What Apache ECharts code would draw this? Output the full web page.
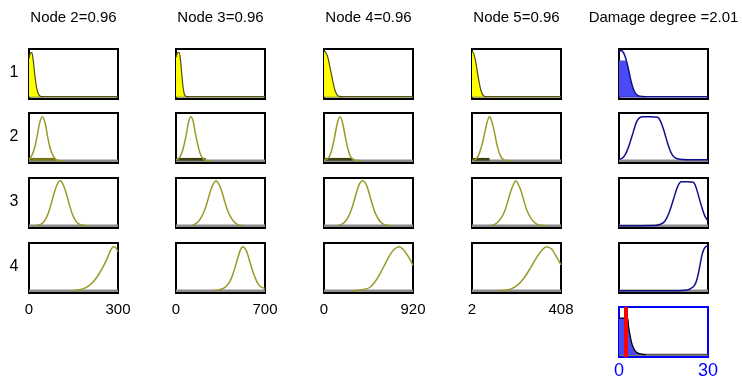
<!DOCTYPE html>
<html>
<head>
<meta charset="utf-8">
<script src="https://cdn.jsdelivr.net/npm/echarts@6/dist/echarts.min.js"></script>
<style>
  html, body { margin: 0; padding: 0; background: #fff; }
  #chart { width: 742px; height: 381px; }
</style>
</head>
<body>
<div id="chart"></div>
<script>
// column titles and row labels
const titles = ['Node 2=0.96', 'Node 3=0.96', 'Node 4=0.96', 'Node 5=0.96', 'Damage degree =2.01'];
const rowLabels = ['1', '2', '3', '4'];
const xRanges = [[0, 300], [0, 700], [0, 920], [2, 408], [0, 30]];

// curves, [x, density scaled to box height]
const node2Rows = [
  [[0, 0.82], [4, 0.93], [9, 0.95], [14, 0.8], [19, 0.5], [25, 0.22], [31, 0.07], [38, 0.01], [50, 0]],
  [[0, 0.03], [10, 0.12], [20, 0.3], [28, 0.55], [36, 0.82], [45, 0.95], [54, 0.82], [62, 0.55], [70, 0.3], [80, 0.12], [90, 0.03], [100, 0.005], [120, 0]],
  [[20, 0.005], [30, 0.01], [45, 0.05], [55, 0.13], [65, 0.27], [75, 0.48], [85, 0.71], [95, 0.89], [105, 0.97], [115, 0.89], [125, 0.71], [135, 0.48], [145, 0.27], [155, 0.13], [165, 0.05], [180, 0.01], [200, 0]],
  [[150, 0.005], [170, 0.02], [190, 0.06], [210, 0.15], [230, 0.3], [250, 0.52], [265, 0.72], [275, 0.87], [285, 0.95], [292, 0.93], [300, 0.84]]
];
const node3Rows = [
  [[0, 0.85], [12, 0.95], [23, 0.96], [35, 0.8], [45, 0.5], [55, 0.22], [65, 0.06], [75, 0.01], [100, 0]],
  [[0, 0.02], [20, 0.04], [40, 0.13], [60, 0.3], [80, 0.55], [100, 0.85], [117, 0.95], [135, 0.85], [155, 0.55], [175, 0.3], [195, 0.12], [215, 0.04], [240, 0.005], [280, 0]],
  [[130, 0.01], [160, 0.05], [190, 0.14], [220, 0.3], [250, 0.55], [280, 0.82], [315, 0.97], [350, 0.82], [380, 0.55], [410, 0.3], [440, 0.14], [470, 0.05], [500, 0.01], [530, 0]],
  [[300, 0.005], [340, 0.02], [380, 0.06], [420, 0.18], [450, 0.38], [480, 0.65], [505, 0.87], [526, 0.95], [550, 0.88], [575, 0.68], [600, 0.45], [625, 0.26], [650, 0.13], [675, 0.07], [700, 0.05]]
];
const node4Rows = [
  [[0, 0.99], [20, 0.95], [40, 0.85], [60, 0.65], [80, 0.45], [100, 0.25], [120, 0.1], [140, 0.03], [160, 0.005], [200, 0]],
  [[0, 0.005], [20, 0.02], [50, 0.07], [80, 0.23], [110, 0.52], [140, 0.83], [165, 0.95], [190, 0.83], [220, 0.52], [250, 0.23], [280, 0.07], [310, 0.02], [340, 0.003], [380, 0]],
  [[150, 0.01], [200, 0.05], [240, 0.15], [280, 0.33], [320, 0.6], [360, 0.87], [400, 0.97], [440, 0.87], [480, 0.6], [520, 0.33], [560, 0.15], [600, 0.05], [650, 0.01], [700, 0]],
  [[300, 0], [350, 0.01], [420, 0.03], [480, 0.08], [530, 0.2], [580, 0.37], [630, 0.57], [680, 0.77], [730, 0.9], [775, 0.95], [820, 0.89], [870, 0.74], [920, 0.55]]
];
const node5Rows = [
  [[2, 0.99], [10, 0.93], [18, 0.78], [26, 0.55], [34, 0.33], [42, 0.15], [50, 0.05], [58, 0.01], [70, 0]],
  [[2, 0.003], [15, 0.02], [30, 0.1], [45, 0.3], [60, 0.6], [72, 0.85], [82, 0.95], [92, 0.85], [105, 0.6], [118, 0.3], [132, 0.1], [147, 0.02], [160, 0.003], [180, 0]],
  [[90, 0.01], [110, 0.04], [130, 0.13], [150, 0.3], [165, 0.52], [180, 0.76], [192, 0.9], [202, 0.97], [212, 0.9], [225, 0.76], [240, 0.52], [255, 0.3], [275, 0.13], [295, 0.04], [315, 0.01], [340, 0]],
  [[120, 0], [150, 0.01], [180, 0.04], [210, 0.12], [240, 0.28], [270, 0.5], [300, 0.74], [320, 0.87], [342, 0.95], [365, 0.9], [385, 0.75], [408, 0.56]]
];
const damageRows = [
  [[0, 0.96], [0.6, 1.0], [1.2, 0.98], [2, 0.88], [2.8, 0.7], [3.5, 0.5], [4.2, 0.3], [5, 0.14], [6, 0.04], [7, 0.01], [9, 0]],
  [[0, 0.03], [1, 0.05], [2, 0.12], [3, 0.26], [4, 0.45], [5, 0.66], [6, 0.85], [7, 0.93], [8, 0.95], [10.5, 0.95], [13, 0.94], [14, 0.85], [15, 0.68], [16, 0.46], [17, 0.26], [18, 0.12], [19, 0.06], [20.5, 0.03], [23, 0.02], [30, 0.02]],
  [[0, 0], [12, 0.005], [14, 0.03], [15.5, 0.1], [17, 0.3], [18.5, 0.6], [19.8, 0.85], [21, 0.95], [23, 0.95], [25, 0.94], [26, 0.82], [27, 0.6], [28, 0.38], [29, 0.2], [30, 0.1]],
  [[0, 0], [20, 0], [22.5, 0.01], [24, 0.04], [25.5, 0.12], [26.5, 0.3], [27.3, 0.55], [28, 0.78], [28.8, 0.92], [29.5, 0.96], [30, 0.97]]
];
const damageFill1 = [[0, 0.78], [2, 0.78], [2.4, 0.76], [2.8, 0.7], [3.5, 0.5], [4.2, 0.3], [5, 0.14], [6, 0.04], [7, 0.01], [9, 0]];
// posterior damage with evidence
const damageEvidence = [[0, 0.79], [2.8, 0.79], [3.2, 0.62], [3.6, 0.46], [4.1, 0.3], [4.6, 0.19], [5.4, 0.09], [6.2, 0.04], [7.5, 0.01], [9, 0]];
const damageMarker = [2.2];
// dark evidence bars under row 2
const evidenceBars = [90, 233, 296, 82];

const colLeft = [29, 176, 324, 472, 619];
const rowTop = [49, 113, 178, 243, 307];
const W = 89, H = 50;
const FONT = 'Liberation Sans, Arial, sans-serif';

const nodeCols = [node2Rows, node3Rows, node4Rows, node5Rows, damageRows];

let grids = [], xAxes = [], yAxes = [], series = [], graphics = [];

function addGrid (c, r, frameColor, showLabel, labelColor, labelSize) {
  grids.push({
    left: colLeft[c], top: rowTop[r], width: W, height: H,
    show: true, borderColor: frameColor, borderWidth: 2, backgroundColor: '#fff'
  });
  let rng = xRanges[c];
  xAxes.push({
    gridIndex: grids.length - 1, type: 'value', min: rng[0], max: rng[1],
    axisLine: { show: false }, axisTick: { show: false }, splitLine: { show: false },
    axisLabel: {
      show: showLabel, customValues: [rng[0], rng[1]],
      showMinLabel: true, showMaxLabel: true,
      color: labelColor, fontSize: labelSize, fontFamily: FONT,
      margin: labelSize > 16 ? 5 : 9
    }
  });
  yAxes.push({ gridIndex: grids.length - 1, type: 'value', min: -0.05, max: 1.03, show: false });
  return grids.length - 1;
}

function line (gi, data, color, width, fill, z, smooth) {
  let s = {
    type: 'line', xAxisIndex: gi, yAxisIndex: gi, data: data,
    symbol: 'none', smooth: smooth === undefined ? 0.35 : smooth,
    lineStyle: { color: color, width: width }, z: z, silent: true
  }
  if (fill) s.areaStyle = { color: fill, opacity: 1 };
  series.push(s);
  return s;
}

for (let c = 0; c < 5; c++) {
  let rows = nodeCols[c];
  let rng = xRanges[c];
  let isDamage = c === 4;
  for (let r = 0; r < 4; r++) {
    let gi = addGrid(c, r, '#000', r === 3 && !isDamage, '#000', 15);
    let base = [[rng[0], 0], [rng[1], 0]];
    if (r === 0) {
      line(gi, base, isDamage ? '#10108c' : '#55551a', 1.5, null, 2, false);
      if (isDamage) {
        line(gi, damageFill1, 'rgba(0,0,0,0)', 0, '#4b4bf5', 3);
        line(gi, rows[0], '#10108c', 1.5, null, 4);
      } else {
        line(gi, rows[0], '#4d4d10', 1.2, '#ffff00', 3);
      }
    } else {
      line(gi, base, '#8c8c8c', 2.5, null, 2, false);
      if (r === 1 && !isDamage) {
        let b = evidenceBars[c];
        line(gi, [[rng[0], 0.06], [b, 0.06]], 'rgba(0,0,0,0)', 0,
          c === 0 ? '#777716' : '#3f3f14', 3, false);
      }
      line(gi, rows[r], isDamage ? '#10108c' : '#9a9a2a', 1.5, null, 4);
    }
  }
  graphics.push({
    type: 'text', x: colLeft[c] + W / 2, y: 10,
    style: { text: titles[c], font: '15px ' + FONT, fill: '#000', textAlign: 'center' }
  });
}

// bottom damage plot with evidence marker
let g5 = addGrid(4, 4, '#0000ff', true, '#0000ff', 18);
line(g5, [[0, 0], [30, 0]], '#555', 2, null, 2, false);
let ev = line(g5, damageEvidence, '#000', 1.3, '#4b4bf5', 3);
ev.markLine = {
  silent: true, symbol: 'none', label: { show: false },
  lineStyle: { color: '#ff0000', width: 4, type: 'solid' },
  data: [{ xAxis: damageMarker[0] }]
};

for (let r = 0; r < 4; r++) {
  graphics.push({
    type: 'text', x: 14, y: rowTop[r] + H / 2 - 9,
    style: { text: rowLabels[r], font: '16px ' + FONT, fill: '#000', textAlign: 'center' }
  });
}

let myChart = echarts.init(document.getElementById('chart'));
myChart.setOption({
  animation: false,
  backgroundColor: '#fff',
  grid: grids,
  xAxis: xAxes,
  yAxis: yAxes,
  series: series,
  graphic: graphics
});
</script>
</body>
</html>
